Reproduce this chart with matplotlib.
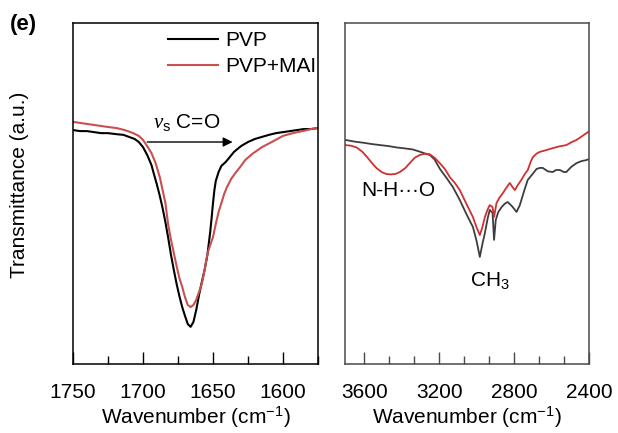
import matplotlib
matplotlib.use("Agg")
import matplotlib.pyplot as plt
from matplotlib.ticker import MultipleLocator, AutoMinorLocator

plt.rcParams['font.family'] = ['Liberation Sans', 'DejaVu Sans']
plt.rcParams['font.size'] = 15
plt.rcParams['mathtext.fontset'] = 'custom'
plt.rcParams['mathtext.rm'] = 'Liberation Sans'
plt.rcParams['mathtext.sf'] = 'Liberation Sans'
plt.rcParams['mathtext.it'] = 'Liberation Serif:italic'

# --- C=O stretch region (left panel) ---
wn_co_pvp = [1750, 1745, 1740, 1735, 1730, 1725, 1719, 1714, 1710, 1706, 1703, 1700,
             1697, 1694, 1692, 1690, 1688, 1686, 1684, 1682, 1680, 1678, 1676, 1674,
             1672, 1670, 1668, 1666, 1664, 1662, 1660, 1658, 1656, 1654, 1652, 1651,
             1650, 1649, 1648, 1646, 1644, 1641, 1638, 1635, 1630, 1625, 1620, 1615,
             1610, 1605, 1600, 1595, 1590, 1585, 1580, 1575]
t_co_pvp = [.686, .683, .683, .680, .677, .677, .674, .672, .666, .660, .651, .636,
            .613, .584, .554, .525, .493, .457, .416, .370, .320, .276, .235, .199,
            .167, .141, .117, .109, .123, .158, .202, .240, .276, .320, .387, .428,
            .472, .510, .537, .563, .581, .592, .607, .622, .639, .651, .660, .666,
            .672, .677, .680, .683, .686, .689, .689, .692]

wn_co_mai = [1750, 1745, 1740, 1735, 1730, 1725, 1719, 1713, 1707, 1703, 1700, 1697,
             1694, 1691, 1688, 1686, 1684, 1682, 1680, 1678, 1676, 1674, 1672, 1670,
             1668, 1666, 1664, 1662, 1660, 1658, 1656, 1654, 1652, 1650, 1648, 1646,
             1644, 1642, 1640, 1637, 1634, 1630, 1627, 1622, 1615, 1608, 1600, 1593,
             1586, 1580, 1575]
t_co_mai = [.710, .707, .704, .701, .698, .695, .692, .686, .677, .669, .657, .639,
            .619, .589, .548, .510, .472, .408, .364, .326, .287, .252, .226, .196,
            .173, .167, .173, .188, .211, .235, .276, .323, .349, .372, .411, .446,
            .472, .499, .519, .543, .560, .581, .598, .616, .636, .651, .669, .677,
            .683, .689, .692]

# --- N-H / C-H region (right panel) ---
wn_ch_pvp = [3700, 3650, 3607, 3560, 3516, 3470, 3427, 3380, 3340, 3300, 3270, 3250,
             3225, 3196, 3160, 3127, 3090, 3055, 3020, 3000, 2983, 2970, 2956, 2940,
             2930, 2915, 2907, 2898, 2885, 2867, 2850, 2834, 2810, 2787, 2770, 2761,
             2745, 2727, 2700, 2680, 2663, 2647, 2620, 2594, 2575, 2556, 2535, 2521,
             2495, 2467, 2440, 2414, 2400]
t_ch_pvp = [.657, .652, .649, .645, .642, .639, .635, .632, .629, .622, .616, .613,
            .600, .572, .545, .519, .481, .440, .402, .360, .314, .350, .384, .430,
            .452, .443, .364, .422, .445, .460, .470, .475, .462, .446, .465, .481,
            .510, .540, .558, .572, .575, .575, .565, .563, .569, .569, .563, .563,
            .578, .589, .595, .598, .601]

wn_ch_mai = [3700, 3670, 3641, 3610, 3587, 3560, 3534, 3505, 3481, 3455, 3430, 3410,
             3380, 3356, 3330, 3303, 3275, 3250, 3225, 3197, 3170, 3143, 3115, 3090,
             3055, 3020, 3000, 2983, 2970, 2956, 2940, 2930, 2915, 2907, 2894, 2878,
             2860, 2840, 2823, 2810, 2796, 2780, 2761, 2745, 2727, 2710, 2699, 2680,
             2663, 2630, 2594, 2560, 2521, 2495, 2467, 2440, 2414, 2400]
t_ch_mai = [.642, .640, .635, .622, .608, .590, .574, .562, .557, .556, .558, .563,
            .575, .590, .605, .613, .617, .615, .605, .589, .572, .548, .530, .510,
            .470, .431, .400, .378, .400, .431, .455, .466, .460, .431, .472, .488,
            .501, .518, .531, .520, .510, .525, .540, .555, .569, .595, .607, .617,
            .622, .627, .633, .638, .642, .650, .657, .667, .677, .682]

fig = plt.figure(figsize=(6.18, 4.33), dpi=100)
ax1 = fig.add_axes([73 / 618, 1 - 364 / 433, 245 / 618, 341 / 433])
ax2 = fig.add_axes([345 / 618, 1 - 364 / 433, 244 / 618, 341 / 433])

# left panel
ax1.plot(wn_co_pvp, t_co_pvp, color='black', lw=1.5, label='PVP')
ax1.plot(wn_co_mai, t_co_mai, color='#c9504f', lw=1.5, label='PVP+MAI')
ax1.set_xlim(1750, 1575)
ax1.set_ylim(0, 1)
ax1.xaxis.set_major_locator(MultipleLocator(50))
ax1.xaxis.set_minor_locator(MultipleLocator(25))
ax1.annotate('', xy=(1636, 0.651), xytext=(1697, 0.651),
             arrowprops=dict(arrowstyle='-|>', color='black', lw=1.0,
                             mutation_scale=14, shrinkA=0, shrinkB=0))
ax1.text(1669, 0.692, r'$\nu_{\mathrm{s}}$ C=O', ha='center', va='baseline', fontsize=15)
ax1.legend(loc='upper right', bbox_to_anchor=(0.995, 0.977), frameon=False,
           borderpad=0, borderaxespad=0, handlelength=2.4, handletextpad=0.35,
           labelspacing=0.35, fontsize=15)

# right panel
ax2.plot(wn_ch_pvp, t_ch_pvp, color='#3e3e3e', lw=1.3)
ax2.plot(wn_ch_mai, t_ch_mai, color='#d0302f', lw=1.3)
ax2.set_xlim(3703, 2400)
ax2.set_ylim(0, 1)
ax2.xaxis.set_major_locator(MultipleLocator(400))
ax2.xaxis.set_minor_locator(AutoMinorLocator(3))
ax2.text(3417, 0.51, 'N-H\u00b7\u00b7\u00b7O', ha='center', va='center', fontsize=15)
ax2.text(2927, 0.245, 'CH$_3$', ha='center', va='center', fontsize=15)

for ax, c in ((ax1, 'black'), (ax2, '#4a4a4a')):
    ax.set_yticks([])
    for s in ax.spines.values():
        s.set_linewidth(1.1)
        s.set_color(c)
    ax.tick_params(axis='x', which='major', direction='in', length=8.5, width=1.0,
                   pad=14, labelsize=15, color=c)
    ax.tick_params(axis='x', which='minor', direction='in', length=5.5, width=1.0, color=c)
    ax.set_xlabel('Wavenumber (cm$^{-1}$)', fontsize=15, labelpad=2)

fig.text(20 / 618, 1 - 185 / 433, 'Transmittance (a.u.)', rotation=90,
         ha='center', va='center', fontsize=15)
fig.text(10 / 618, 1 - 30 / 433, '(e)', fontweight='bold', fontsize=16, va='baseline')

fig.savefig('out.png', dpi=100)
